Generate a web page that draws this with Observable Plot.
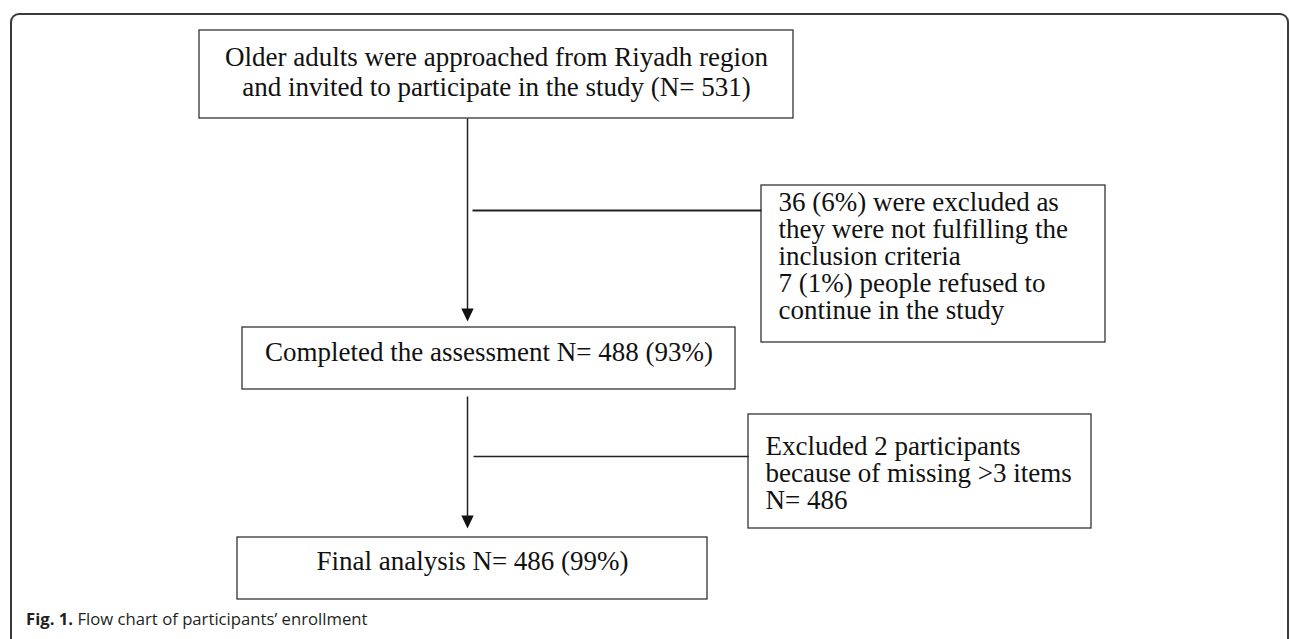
<!DOCTYPE html>
<html>
<head>
<meta charset="utf-8">
<script src="https://cdn.jsdelivr.net/npm/d3@7"></script>
<script src="https://cdn.jsdelivr.net/npm/@observablehq/plot@0.6"></script>
<style>
  html, body { margin: 0; padding: 0; background: #fff; }
  #fig { position: relative; width: 1290px; height: 639px; overflow: hidden; }
  #frame { position: absolute; left: 10px; top: 13px; width: 1279px; height: 700px;
           border: 2px solid #3a3a3a; border-radius: 9px; box-sizing: border-box; }
  #chart { position: relative; }
  #chart svg { display: block; background: transparent; }
  #caption { position: relative; margin: 3px 0 0 26px; font-family: "Open Sans", sans-serif;
             font-size: 16.7px; line-height: 20px; color: #231f20; }
  #caption b { font-weight: 700; }
</style>
</head>
<body>
<div id="fig">
  <div id="frame"></div>
  <div id="chart"></div>
  <div id="caption"><b>Fig. 1.</b> Flow chart of participants’ enrollment</div>
</div>
<script>
// ---- content ----
const mainLabels = [
  "Older adults were approached from Riyadh region\nand invited to participate in the study (N= 531)",
  "Completed the assessment N= 488 (93%)",
  "Final analysis N= 486 (99%)"
];
const sideLabels = [
  "36 (6%) were excluded as\nthey were not fulfilling the\ninclusion criteria\n7 (1%) people refused to\ncontinue in the study",
  "Excluded 2 participants\nbecause of missing >3 items\nN= 486"
];

// ---- layout (diagram coordinates) ----
const mainX1 = [199, 242, 237];
const mainX2 = [793, 735, 707];
const mainY1 = [30, 327, 537];
const mainY2 = [118, 389, 599];
const mainBaseline = [95, 360, 569];

const sideX1 = [761, 748];
const sideX2 = [1105, 1091];
const sideY1 = [185, 414];
const sideY2 = [342, 528];
const sideTextX = [778, 765];
const sideBaseline = [318, 508];

const stemX = [467, 467];
const stemFrom = [118, 396];
const stemTip = [321, 528];

const branchX = [472, 473];
const branchY = [210, 456];

// ---- tables ----
const mainBoxes = mainLabels.map((label, i) => ({label, x1: mainX1[i], x2: mainX2[i], y1: mainY1[i], y2: mainY2[i], base: mainBaseline[i]}));
const sideBoxes = sideLabels.map((label, i) => ({label, x1: sideX1[i], x2: sideX2[i], y1: sideY1[i], y2: sideY2[i], tx: sideTextX[i], base: sideBaseline[i]}));
const stems = stemX.map((x, i) => ({x, from: stemFrom[i], tip: stemTip[i]}));
const branches = branchX.map((x, i) => ({x1: x, x2: sideX1[i], y: branchY[i], w: i === 0 ? 2 : 1.3}));

const W = 1290, H = 606;
const FS = 27;
const HEAD = 13;                  // arrowhead length in px
// filled arrowhead symbol whose origin is its tip, pointing down
const arrowHead = {
  draw(context, size) {
    const h = Math.sqrt(size);
    const w = h * 0.95;
    context.moveTo(0, 0);
    context.lineTo(-w / 2, -h);
    context.lineTo(w / 2, -h);
    context.closePath();
  }
};
const serif = "'Liberation Serif', 'Times New Roman', serif";

const chart = Plot.plot({
  width: W,
  height: H,
  margin: 0,
  x: {domain: [0, W], range: [0, W], axis: null},
  y: {domain: [0, H], range: [0, H], axis: null},
  style: {background: "transparent"},
  marks: [
    Plot.rect(mainBoxes, {x1: "x1", x2: "x2", y1: "y1", y2: "y2", fill: "white", stroke: "#333", strokeWidth: 1.3}),
    Plot.rect(sideBoxes, {x1: "x1", x2: "x2", y1: "y1", y2: "y2", fill: "white", stroke: "#333", strokeWidth: 1.3}),
    Plot.text(mainBoxes, {x: d => (d.x1 + d.x2) / 2, y: "base", text: "label", lineAnchor: "bottom",
      lineHeight: 30 / FS, fontSize: FS, fontFamily: serif, fill: "#111"}),
    Plot.text(sideBoxes, {x: "tx", y: "base", text: "label", textAnchor: "start", lineAnchor: "bottom",
      lineHeight: 27 / FS, fontSize: FS, fontFamily: serif, fill: "#111"}),
    Plot.link(stems, {x1: "x", x2: "x", y1: "from", y2: d => d.tip - HEAD + 1, stroke: "#222", strokeWidth: 1.5}),
    Plot.dot(stems, {x: "x", y: "tip", symbol: arrowHead, r: HEAD / Math.sqrt(Math.PI), fill: "#111", stroke: "none"}),
    Plot.link(branches, {x1: "x1", x2: "x2", y1: "y", y2: "y", stroke: "#222", strokeWidth: "w"})
  ]
});
document.getElementById("chart").appendChild(chart);
</script>
</body>
</html>
